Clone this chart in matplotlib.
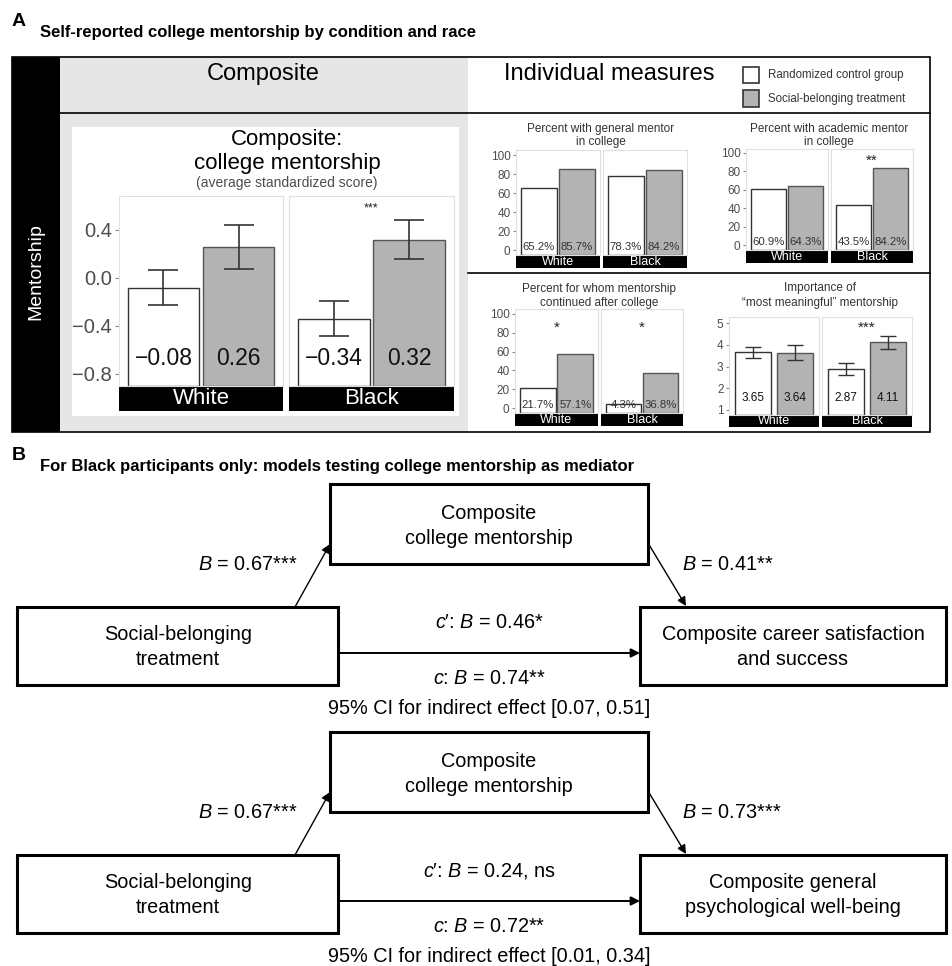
import matplotlib
matplotlib.use('Agg')
import matplotlib.pyplot as plt
from matplotlib.patches import Rectangle

plt.rcParams['font.family'] = ['Liberation Sans', 'DejaVu Sans']
plt.rcParams['mathtext.fontset'] = 'custom'
plt.rcParams['mathtext.it'] = 'Liberation Sans:italic'
plt.rcParams['mathtext.rm'] = 'Liberation Sans'

# ---- data ----
groups = ['White', 'Black']

comp_ctrl = [-0.08, -0.34]
comp_treat = [0.26, 0.32]
comp_ctrl_err = [0.145, 0.145]
comp_treat_err = [0.185, 0.16]
comp_stars = ['', '***']
comp_yticks = [-0.8, -0.4, 0.0, 0.4]

gen_ctrl = [65.2, 78.3]
gen_treat = [85.7, 84.2]
gen_stars = ['', '']

acad_ctrl = [60.9, 43.5]
acad_treat = [64.3, 84.2]
acad_stars = ['', '**']

cont_ctrl = [21.7, 4.3]
cont_treat = [57.1, 36.8]
cont_stars = ['*', '*']

pct_yticks = [0, 20, 40, 60, 80, 100]

imp_ctrl = [3.65, 2.87]
imp_treat = [3.64, 4.11]
imp_ctrl_err = [0.25, 0.27]
imp_treat_err = [0.33, 0.30]
imp_stars = ['', '***']
imp_yticks = [1, 2, 3, 4, 5]

# mediation models (Black participants only)
a_coef = [0.67, 0.67]
a_sig = ['***', '***']
b_coef = [0.41, 0.73]
b_sig = ['**', '***']
cp_coef = [0.46, 0.24]
cp_sig = ['*', ', ns']
c_coef = [0.74, 0.72]
c_sig = ['**', '**']
ci_low = [0.07, 0.01]
ci_high = [0.51, 0.34]
outcomes = ['Composite career satisfaction\nand success',
            'Composite general\npsychological well-being']

CTRL_FC, TREAT_FC = 'white', '#b3b3b3'

W, H = 953, 966
fig = plt.figure(figsize=(W / 100, H / 100), dpi=100)
ax0 = fig.add_axes([0, 0, 1, 1])
ax0.set_xlim(0, W)
ax0.set_ylim(H, 0)
ax0.axis('off')


def px_axes(x0, y0, x1, y1):
    return fig.add_axes([x0 / W, 1 - y1 / H, (x1 - x0) / W, (y1 - y0) / H])


def rect(x0, y0, x1, y1, **kw):
    ax0.add_patch(Rectangle((x0, y0), x1 - x0, y1 - y0, **kw))


def facet(xs, top, strip_top, strip_bot, ylim, yticks, yticklabels, ctrl, treat,
          labels, label_y, stars, star_y, width=0.95, xlim=(-0.6, 1.6),
          ctrl_err=None, treat_err=None, capsize=6, label_fs=8.2,
          label_color='#333333', tick_fs=8.5, strip_fs=9, star_fs=11, elw=1.0,
          tick_len=2):
    for i, (x0, x1) in enumerate(xs):
        ax = px_axes(x0, top, x1, strip_top)
        ax.set_facecolor('white')
        vals = [ctrl[i], treat[i]]
        ax.bar([0, 1], [v - ylim[0] for v in vals], bottom=ylim[0], width=width,
               color=[CTRL_FC, TREAT_FC], edgecolor=['#333333', '#555555'],
               linewidth=1.0, zorder=2)
        if ctrl_err is not None:
            ax.errorbar([0, 1], vals, yerr=[ctrl_err[i], treat_err[i]], fmt='none',
                        ecolor='#333333', elinewidth=elw, capsize=capsize,
                        capthick=elw, zorder=3)
        for j, v in enumerate(vals):
            ax.text(j, label_y, labels(v), ha='center', va='center',
                    fontsize=label_fs, color=label_color, zorder=4)
        if stars[i]:
            ax.text(0.5, star_y, stars[i], ha='center', va='center',
                    fontsize=star_fs, color='#222222', zorder=4)
        ax.set_xlim(*xlim)
        ax.set_ylim(*ylim)
        ax.set_xticks([])
        for sp in ax.spines.values():
            sp.set_color('#e0e0e0')
            sp.set_linewidth(0.8)
        if i == 0:
            ax.set_yticks(yticks)
            ax.set_yticklabels(yticklabels)
            ax.tick_params(axis='y', labelsize=tick_fs, labelcolor='#4d4d4d',
                           color='#888888', length=tick_len, width=0.8, pad=2)
        else:
            ax.set_yticks([])
        rect(x0, strip_top, x1, strip_bot, fc='black', ec='none')
        ax0.text((x0 + x1) / 2, (strip_top + strip_bot) / 2 + 0.5, groups[i],
                 color='white', fontsize=strip_fs, ha='center', va='center')


# ---- panel A frame ----
rect(60, 57, 468, 432, fc='#e6e6e6', ec='none')
rect(72, 127, 459, 416, fc='white', ec='none')
rect(12, 57, 60, 432, fc='black', ec='none')
ax0.plot([60, 930], [113, 113], color='black', lw=1.2)
ax0.plot([468, 930], [273, 273], color='black', lw=1.2)
rect(12, 57, 930, 432, fc='none', ec='black', lw=1.2)

ax0.text(12, 22, 'A', fontsize=14, fontweight='bold', va='center')
ax0.text(40, 33, 'Self-reported college mentorship by condition and race',
         fontsize=12, fontweight='bold', va='center')
ax0.text(36, 272, 'Mentorship', rotation=90, color='white', fontsize=14,
         ha='center', va='center')
ax0.text(263, 74, 'Composite', fontsize=17, ha='center', va='center')
ax0.text(609, 74, 'Individual measures', fontsize=17, ha='center', va='center')

rect(743, 67, 759, 83, fc=CTRL_FC, ec='#333333', lw=1.2)
rect(743, 90, 759, 107, fc=TREAT_FC, ec='#333333', lw=1.2)
ax0.text(768, 75, 'Randomized control group', fontsize=8.3, color='#333333', va='center')
ax0.text(768, 99, 'Social-belonging treatment', fontsize=8.3, color='#333333', va='center')

# ---- composite chart ----
ax0.text(287, 140, 'Composite:', fontsize=16, ha='center', va='center')
ax0.text(287, 164, 'college mentorship', fontsize=16, ha='center', va='center')
ax0.text(287, 183, '(average standardized score)', fontsize=10, color='#4d4d4d',
         ha='center', va='center')
facet([(119, 283), (289, 454)], 196, 386, 411, (-0.9, 0.683), comp_yticks,
      [f'{t:.1f}'.replace('-', '\u2212') for t in comp_yticks],
      comp_ctrl, comp_treat, lambda v: f'{v:.2f}'.replace('-', '\u2212'), -0.67,
      comp_stars, 0.58, width=0.95, xlim=(-0.593, 1.593),
      ctrl_err=comp_ctrl_err, treat_err=comp_treat_err, capsize=11,
      label_fs=16.5, label_color='#111111', tick_fs=14.5, strip_fs=16, star_fs=9,
      elw=1.2, tick_len=3)

# ---- individual measures ----
pct_lab = [str(t) for t in pct_yticks]
ax0.text(601, 129, 'Percent with general mentor', fontsize=8.5, color='#333333',
         ha='center', va='center')
ax0.text(601, 142, 'in college', fontsize=8.5, color='#333333', ha='center', va='center')
facet([(516, 600), (603, 687)], 150, 255, 268, (-5.26, 105.3), pct_yticks, pct_lab,
      gen_ctrl, gen_treat, lambda v: f'{v:.1f}%', 3, gen_stars, 90)

ax0.text(829, 129, 'Percent with academic mentor', fontsize=8.5, color='#333333',
         ha='center', va='center')
ax0.text(829, 142, 'in college', fontsize=8.5, color='#333333', ha='center', va='center')
facet([(746, 828), (831, 913)], 149, 250, 263, (-5.4, 104.3), pct_yticks, pct_lab,
      acad_ctrl, acad_treat, lambda v: f'{v:.1f}%', 3, acad_stars, 92)

ax0.text(599, 289, 'Percent for whom mentorship', fontsize=8.5, color='#333333',
         ha='center', va='center')
ax0.text(599, 303, 'continued after college', fontsize=8.5, color='#333333',
         ha='center', va='center')
facet([(515, 598), (601, 683)], 309, 413, 426, (-5.3, 105.3), pct_yticks, pct_lab,
      cont_ctrl, cont_treat, lambda v: f'{v:.1f}%', 3, cont_stars, 85)

ax0.text(820, 288, 'Importance of', fontsize=8.5, color='#333333',
         ha='center', va='center')
ax0.text(820, 303, '\u201cmost meaningful\u201d mentorship', fontsize=8.5,
         color='#333333', ha='center', va='center')
facet([(729, 819), (822, 912)], 317, 415, 427, (0.77, 5.276), imp_yticks,
      [str(t) for t in imp_yticks], imp_ctrl, imp_treat, lambda v: f'{v:.2f}', 1.57,
      imp_stars, 4.8, width=0.86, xlim=(-0.57, 1.57), ctrl_err=imp_ctrl_err,
      treat_err=imp_treat_err, capsize=6, label_fs=8.5, label_color='#111111')

# ---- panel B: mediation models ----
ax0.text(12, 455, 'B', fontsize=14, fontweight='bold', va='center')
ax0.text(40, 467, 'For Black participants only: models testing college mentorship as mediator',
         fontsize=12, fontweight='bold', va='center')

FS = 14.3
LS = 1.38
for m, dy in enumerate([0, 248]):
    top_y0, top_y1 = 484 + dy, 564 + dy
    low_y0, low_y1 = 607 + dy, 685 + dy
    rect(330, top_y0, 648, top_y1, fc='white', ec='black', lw=2.2)
    rect(17, low_y0, 338, low_y1, fc='white', ec='black', lw=2.2)
    rect(640, low_y0, 946, low_y1, fc='white', ec='black', lw=2.2)
    ax0.text(489, (top_y0 + top_y1) / 2 + 2, 'Composite\ncollege mentorship', fontsize=FS,
             ha='center', va='center', linespacing=LS)
    ax0.text(178, (low_y0 + low_y1) / 2 + 1, 'Social-belonging\ntreatment', fontsize=FS,
             ha='center', va='center', linespacing=LS)
    ax0.text(793, (low_y0 + low_y1) / 2 + 1, outcomes[m], fontsize=FS,
             ha='center', va='center', linespacing=LS)

    arrow = dict(arrowstyle='-|>', color='black', lw=1.0, mutation_scale=13,
                 shrinkA=0, shrinkB=0)
    ax0.annotate('', xy=(330, top_y0 + 60), xytext=(295, low_y0), arrowprops=arrow)
    ax0.annotate('', xy=(686, low_y0 - 1), xytext=(648, top_y0 + 59), arrowprops=arrow)
    ax0.annotate('', xy=(640, low_y0 + 46), xytext=(338, low_y0 + 46),
                 arrowprops=dict(arrow, lw=1.4))

    ax0.text(297, top_y1 + 1, rf'$B$ = {a_coef[m]:.2f}{a_sig[m]}', fontsize=FS,
             ha='right', va='center')
    ax0.text(682, top_y1 + 1, rf'$B$ = {b_coef[m]:.2f}{b_sig[m]}', fontsize=FS,
             ha='left', va='center')
    ax0.text(489, low_y0 + 16, rf"$c$′: $B$ = {cp_coef[m]:.2f}{cp_sig[m]}",
             fontsize=FS, ha='center', va='center')
    ax0.text(489, low_y0 + 72, rf'$c$: $B$ = {c_coef[m]:.2f}{c_sig[m]}',
             fontsize=FS, ha='center', va='center')
    ax0.text(489, low_y0 + 101,
             f'95% CI for indirect effect [{ci_low[m]:.2f}, {ci_high[m]:.2f}]',
             fontsize=FS, ha='center', va='center')

fig.savefig('out.png', dpi=100)
